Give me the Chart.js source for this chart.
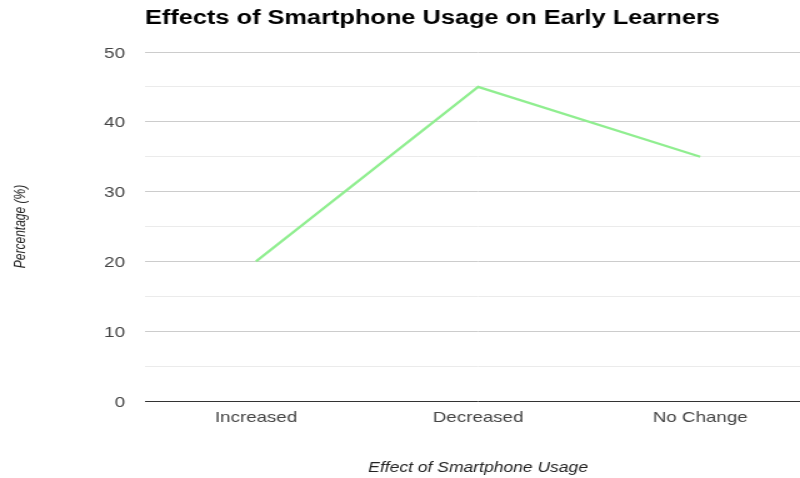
<!DOCTYPE html>
<html>
<head>
<meta charset="utf-8">
<script src="https://cdn.jsdelivr.net/npm/chart.js@4/dist/chart.umd.min.js"></script>
<style>
  html, body { margin: 0; padding: 0; background: #fff; overflow: hidden; width: 800px; height: 478px; }
  #wrap { width: 650px; height: 478px; transform: scaleX(1.25); transform-origin: 0 0; }
  canvas { display: block; }
</style>
</head>
<body>
<div id="wrap"><canvas id="chart" width="650" height="478"></canvas></div>
<script>
// Survey results: share of early learners by reported effect
const categories = ['Increased', 'Decreased', 'No Change'];
const percentages = [20, 45, 35];
const chartTitle = 'Effects of Smartphone Usage on Early Learners';
const xTitle = 'Effect of Smartphone Usage';
const yTitle = 'Percentage (%)';
const yMin = 0, yMax = 50, yStep = 5, yLabelStep = 10;

const FONT = 'Arial, "Liberation Sans", Helvetica, sans-serif';

// Title drawn flush with the left edge of the plot area
const titlePlugin = {
  id: 'leftTitle',
  afterDraw(chart) {
    const ctx = chart.ctx;
    ctx.save();
    ctx.font = 'bold 20.3px ' + FONT;
    ctx.fillStyle = '#000';
    ctx.textAlign = 'left';
    ctx.textBaseline = 'alphabetic';
    ctx.fillText(chartTitle, chart.chartArea.left, 24);
    ctx.restore();
  }
};

new Chart(document.getElementById('chart'), {
  type: 'line',
  data: {
    labels: categories,
    datasets: [{
      data: percentages,
      borderColor: '#90ee90',
      borderWidth: 2.2,
      pointRadius: 0,
      pointHoverRadius: 0,
      fill: false,
      tension: 0
    }]
  },
  options: {
    responsive: false,
    animation: false,
    devicePixelRatio: 1,
    layout: { padding: { top: 52, right: 1, left: 0, bottom: 0 } },
    plugins: { legend: { display: false }, tooltip: { enabled: false }, title: { display: false } },
    scales: {
      x: {
        offset: true,
        grid: { display: false, drawTicks: false },
        border: { display: false },
        ticks: { color: '#444', font: { family: FONT, size: 15 }, padding: 8, maxRotation: 0 },
        title: { display: true, text: xTitle, color: '#222', font: { family: FONT, size: 14, style: 'italic' }, padding: { top: 1, bottom: 1 } },
        afterFit(scale) { scale.height = 77; }
      },
      y: {
        min: yMin,
        max: yMax,
        grid: {
          drawTicks: false,
          color(ctx) {
            const v = ctx.tick.value;
            if (v === 0) return '#333';
            return v % yLabelStep === 0 ? '#cccccc' : '#ebebeb';
          },
          lineWidth: 1
        },
        border: { display: false },
        ticks: {
          stepSize: yStep,
          color: '#444',
          font: { family: FONT, size: 15 },
          padding: 16,
          labelOffset: 1.5,
          autoSkip: false,
          callback(v) { return v % yLabelStep === 0 ? String(v) : ''; }
        },
        title: { display: true, text: yTitle, color: '#222', font: { family: FONT, size: 12, style: 'italic' }, padding: { top: 9, bottom: 9 } },
        afterFit(scale) { scale.width = 116; }
      }
    }
  },
  plugins: [titlePlugin]
});
</script>
</body>
</html>
